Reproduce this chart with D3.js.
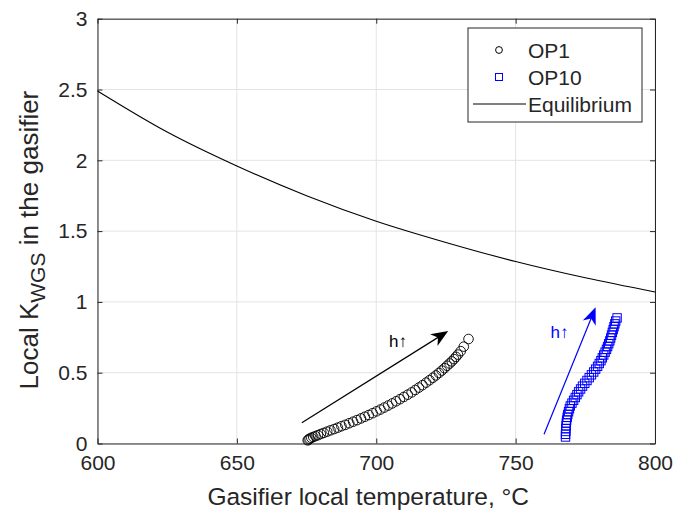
<!DOCTYPE html>
<html>
<head>
<meta charset="utf-8">
<script src="https://cdn.jsdelivr.net/npm/d3@7"></script>
<style>
  body { margin: 0; background: #fff; }
  svg text { font-family: "Liberation Sans", Arial, Helvetica, sans-serif; fill: #262626; }
</style>
</head>
<body>
<div id="chart"></div>
<script>
// ---- data ----
var xTicks = [600, 650, 700, 750, 800];
var yTicks = [0, 0.5, 1, 1.5, 2, 2.5, 3];
var yTickLabels = ["0", "0.5", "1", "1.5", "2", "2.5", "3"];

// equilibrium K_WGS vs temperature
var eqT = [600, 625, 650, 675, 700, 725, 750, 775, 800];
var eqK = [2.49, 2.20, 1.96, 1.75, 1.57, 1.42, 1.285, 1.17, 1.07];

// OP1 (circles)
var op1T = [675.4, 675.7, 676.1, 676.7, 677.4, 678.2, 679.1, 680.1, 681.2, 682.4,
            683.6, 684.9, 686.2, 687.5, 688.9, 690.3, 691.7, 693.1, 694.5, 695.9,
            697.3, 698.7, 700.1, 701.5, 702.9, 704.3, 705.7, 707.1, 708.5, 709.9,
            711.3, 712.7, 714.0, 715.3, 716.6, 717.9, 719.1, 720.3, 721.4, 722.5,
            723.5, 724.5, 725.4, 726.3, 727.1, 727.9, 728.6, 729.3, 730.3, 731.4, 733.1];
var op1K = [0.022, 0.028, 0.034, 0.040, 0.046, 0.052, 0.059, 0.067, 0.075, 0.084,
            0.093, 0.102, 0.112, 0.122, 0.132, 0.143, 0.154, 0.165, 0.177, 0.189,
            0.201, 0.214, 0.227, 0.240, 0.254, 0.268, 0.283, 0.298, 0.313, 0.329,
            0.345, 0.361, 0.378, 0.395, 0.412, 0.430, 0.447, 0.464, 0.481, 0.498,
            0.515, 0.532, 0.549, 0.565, 0.580, 0.596, 0.612, 0.628, 0.652, 0.684, 0.738];

// OP10 (squares)
var op10T = [767.9, 767.9, 768.0, 768.0, 768.1, 768.2, 768.3, 768.5, 768.7, 769.0,
             769.3, 769.6, 770.2, 770.8, 771.4, 772.0, 772.6, 773.3, 774.0, 774.8,
             775.6, 776.4, 777.2, 778.0, 778.7, 779.4, 780.0, 780.6, 781.1, 781.6,
             782.1, 782.6, 783.0, 783.4, 783.8, 784.1, 784.4, 784.7, 785.0, 785.3,
             785.6, 785.9, 786.4];
var op10K = [0.046, 0.065, 0.085, 0.105, 0.125, 0.145, 0.165, 0.185, 0.205, 0.225,
             0.245, 0.265, 0.285, 0.305, 0.325, 0.345, 0.365, 0.385, 0.405, 0.425,
             0.445, 0.465, 0.485, 0.505, 0.525, 0.545, 0.565, 0.585, 0.605, 0.625,
             0.645, 0.665, 0.685, 0.705, 0.725, 0.745, 0.765, 0.785, 0.805, 0.825,
             0.845, 0.865, 0.887];

// annotation arrows (data coordinates) and their labels
var arrowStart = [[673.3, 0.147], [760.2, 0.065]];
var arrowEnd   = [[725.8, 0.794], [778.7, 0.962]];
var arrowText  = [[704.6, 0.68], [762.5, 0.745]];
var arrowColor = ["#000000", "#0000ff"];

var legendNames = ["OP1", "OP10", "Equilibrium"];

// ---- layout ----
var width = 691, height = 516,
    margin = {top: 18.7, right: 36, bottom: 72.5, left: 97.5},
    axisColor = "#262626", gridColor = "#e3e3e3";

var svg = d3.select("#chart").append("svg")
    .attr("width", width)
    .attr("height", height);

var x = d3.scaleLinear().domain([600, 800]).range([margin.left, width - margin.right]);
var y = d3.scaleLinear().domain([0, 3]).range([height - margin.bottom, margin.top]);

/*------------------------------- grid ---------------------------------*/
var grid = svg.append("g").attr("class", "grid");
grid.selectAll(".gx").data(xTicks).enter().append("line")
    .attr("x1", function(d) { return x(d); }).attr("x2", function(d) { return x(d); })
    .attr("y1", y(0)).attr("y2", y(3))
    .attr("stroke", gridColor).attr("stroke-width", 1);
grid.selectAll(".gy").data(yTicks).enter().append("line")
    .attr("y1", function(d) { return y(d); }).attr("y2", function(d) { return y(d); })
    .attr("x1", x(600)).attr("x2", x(800))
    .attr("stroke", gridColor).attr("stroke-width", 1);

/*------------------------------- axes ---------------------------------*/
var xAxis = svg.append("g")
    .attr("transform", "translate(0," + y(0) + ")")
    .call(d3.axisBottom(x).tickValues(xTicks).tickSizeInner(-5).tickSizeOuter(0).tickPadding(12));
var yAxis = svg.append("g")
    .attr("transform", "translate(" + x(600) + ",0)")
    .call(d3.axisLeft(y).tickValues(yTicks).tickFormat(function(d, i) { return yTickLabels[i]; })
          .tickSizeInner(-5).tickSizeOuter(0).tickPadding(10));
var xAxisTop = svg.append("g")
    .attr("transform", "translate(0," + y(3) + ")")
    .call(d3.axisTop(x).tickValues(xTicks).tickSizeInner(-5).tickSizeOuter(0).tickFormat(""));
var yAxisRight = svg.append("g")
    .attr("transform", "translate(" + x(800) + ",0)")
    .call(d3.axisRight(y).tickValues(yTicks).tickSizeInner(-5).tickSizeOuter(0).tickFormat(""));

[xAxis, yAxis, xAxisTop, yAxisRight].forEach(function(a) {
  a.select(".domain").attr("stroke", axisColor);
  a.selectAll(".tick line").attr("stroke", axisColor);
  a.selectAll(".tick text").attr("fill", axisColor).style("font-size", "21px")
   .style("font-family", "'Liberation Sans', Arial, sans-serif");
});

/*--------------------------- equilibrium line --------------------------*/
var line = d3.line()
    .x(function(d) { return x(d[0]); })
    .y(function(d) { return y(d[1]); })
    .curve(d3.curveMonotoneX);
svg.append("path")
    .datum(d3.zip(eqT, eqK))
    .attr("d", line)
    .attr("fill", "none")
    .attr("stroke", "#000")
    .attr("stroke-width", 1.1);

/*------------------------------ markers --------------------------------*/
svg.append("g").selectAll("circle")
    .data(d3.zip(op1T, op1K))
  .enter().append("circle")
    .attr("cx", function(d) { return x(d[0]); })
    .attr("cy", function(d) { return y(d[1]); })
    .attr("r", 4.8)
    .attr("fill", "none")
    .attr("stroke", "#000")
    .attr("stroke-width", 0.9);

var sq = 8.4;
svg.append("g").selectAll("rect")
    .data(d3.zip(op10T, op10K))
  .enter().append("rect")
    .attr("x", function(d) { return x(d[0]) - sq / 2; })
    .attr("y", function(d) { return y(d[1]) - sq / 2; })
    .attr("width", sq).attr("height", sq)
    .attr("fill", "none")
    .attr("stroke", "#0000ff")
    .attr("stroke-width", 1);

/*------------------------------ arrows ---------------------------------*/
function arrowHead(x1, y1, x2, y2) {
  var a = Math.atan2(y2 - y1, x2 - x1), len = 17, hw = 7, notch = 12,
      ca = Math.cos(a), sa = Math.sin(a);
  function pt(l, w) { return [x2 - l * ca - w * sa, y2 - l * sa + w * ca]; }
  return "M" + [x2, y2] + "L" + pt(len, hw) + "L" + pt(notch, 0) + "L" + pt(len, -hw) + "Z";
}
arrowStart.forEach(function(s, i) {
  var e = arrowEnd[i],
      x1 = x(s[0]), y1 = y(s[1]), x2 = x(e[0]), y2 = y(e[1]),
      a = Math.atan2(y2 - y1, x2 - x1);
  svg.append("line")
      .attr("x1", x1).attr("y1", y1)
      .attr("x2", x2 - 10 * Math.cos(a)).attr("y2", y2 - 10 * Math.sin(a))
      .attr("stroke", arrowColor[i]).attr("stroke-width", 1.2);
  svg.append("path")
      .attr("d", arrowHead(x1, y1, x2, y2))
      .attr("fill", arrowColor[i]);
  svg.append("text")
      .attr("x", x(arrowText[i][0])).attr("y", y(arrowText[i][1]))
      .style("font-size", "17px")
      .style("fill", arrowColor[i])
      .text("h\u2191");
});

/*------------------------------ labels ---------------------------------*/
svg.append("text")
    .attr("x", (x(600) + x(800)) / 2 - 8)
    .attr("y", 505)
    .attr("text-anchor", "middle")
    .style("font-size", "24.5px")
    .text("Gasifier local temperature, \u00b0C");

var yl = svg.append("text")
    .attr("transform", "translate(38," + ((y(0) + y(3)) / 2 + 9) + ")rotate(-90)")
    .attr("text-anchor", "middle")
    .style("font-size", "26px");
yl.append("tspan").text("Local K");
yl.append("tspan").attr("dy", 7).style("font-size", "21px").text("WGS");
yl.append("tspan").attr("dy", -7).text(" in the gasifier");

/*------------------------------ legend ---------------------------------*/
var lg = svg.append("g").attr("transform", "translate(468,28)");
lg.append("rect")
    .attr("width", 174).attr("height", 94)
    .attr("fill", "#fff").attr("stroke", axisColor).attr("stroke-width", 1);
var rowY = [22, 49, 76];
lg.append("circle").attr("cx", 31).attr("cy", rowY[0]).attr("r", 3.4)
    .attr("fill", "none").attr("stroke", "#000");
lg.append("rect").attr("x", 27.5).attr("y", rowY[1] - 3.5).attr("width", 7).attr("height", 7)
    .attr("fill", "none").attr("stroke", "#0000ff");
lg.append("line").attr("x1", 5).attr("x2", 58).attr("y1", rowY[2]).attr("y2", rowY[2])
    .attr("stroke", "#000").attr("stroke-width", 1.1);
lg.selectAll(".lt").data(legendNames).enter().append("text")
    .attr("x", 60)
    .attr("y", function(d, i) { return rowY[i] + 7.5; })
    .style("font-size", "21px")
    .text(function(d) { return d; });
</script>
</body>
</html>
